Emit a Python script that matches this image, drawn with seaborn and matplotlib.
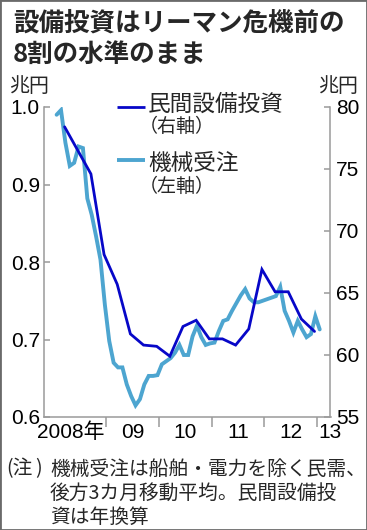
import matplotlib
matplotlib.use("Agg")
import matplotlib.pyplot as plt
import seaborn as sns
import numpy as np
import pandas as pd
from matplotlib.lines import Line2D
from matplotlib.patches import Rectangle

# ---------------- data ----------------
title_lines = ["設備投資はリーマン危機前の", "8割の水準のまま"]
unit_label = "兆円"

order_start, order_end = "2008-01", "2013-01"
machine_orders = [  # 兆円, left axis (monthly, 3-month moving average)
    0.990, 0.996, 0.954, 0.924, 0.928, 0.949, 0.947, 0.882, 0.861, 0.833, 0.803, 0.745,
    0.698, 0.670, 0.664, 0.664, 0.642, 0.627, 0.615, 0.623, 0.642, 0.653, 0.653, 0.654,
    0.668, 0.672, 0.676, 0.683, 0.693, 0.680, 0.680, 0.704, 0.718, 0.703, 0.693, 0.695,
    0.696, 0.711, 0.724, 0.726, 0.737, 0.747, 0.757, 0.765, 0.753, 0.748, 0.748, 0.750,
    0.752, 0.754, 0.756, 0.768, 0.737, 0.724, 0.709, 0.724, 0.713, 0.703, 0.707, 0.730,
    0.713,
]

capex_start, capex_end = "2008Q1", "2012Q4"
private_capex = [  # 兆円, right axis (quarterly, annualised)
    78.4, 76.5, 74.6, 68.1,
    65.7, 61.7, 60.8, 60.7,
    59.9, 62.3, 62.8, 61.3,
    61.3, 60.8, 62.1, 66.9,
    65.1, 65.1, 62.9, 61.9,
]

series_names = ["民間設備投資", "機械受注"]
series_axes = ["（右軸）", "（左軸）"]

left_ticks = [0.6, 0.7, 0.8, 0.9, 1.0]
left_ticklabels = ["0.6", "0.7", "0.8", "0.9", "1.0"]
right_ticks = [55, 60, 65, 70, 75, 80]
year_ticks = [2009, 2010, 2011, 2012, 2013]
year_label_pos = [2008.33, 2009.5, 2010.5, 2011.5, 2012.5, 2013.25]
year_labels = ["2008年", "09", "10", "11", "12", "13"]

note_head = ["(注", ")"]
note_lines = ["機械受注は船舶・電力を除く民需、", "後方3カ月移動平均。民間設備投", "資は年換算"]

# ---------------- frames ----------------
months = pd.period_range(order_start, order_end, freq="M")
df_orders = pd.DataFrame({
    "x": months.year + (months.month - 1) / 12 + 0.055,
    "value": machine_orders,
})
quarters = pd.period_range(capex_start, capex_end, freq="Q")
df_capex = pd.DataFrame({
    "x": quarters.year + (quarters.quarter * 3 - 1) / 12 + 0.04,
    "value": private_capex,
})

# ---------------- style ----------------
sns.set_theme(style="ticks")
plt.rcParams["font.family"] = ["Noto Sans CJK JP", "DejaVu Sans"]

W, H, DPI = 367, 530, 100
fig = plt.figure(figsize=(W / DPI, H / DPI), dpi=DPI)
fig.patch.set_facecolor("white")

def fx(px):
    return px / W

def fy(py):
    return 1 - py / H

DARK = "#0707c8"
LIGHT = "#4da5d0"
SPINE = "#9a9a9a"

ax = fig.add_axes([fx(44), fy(417), fx(330.5) - fx(44), fy(107) - fy(417)])
ax2 = ax.twinx()

sns.lineplot(data=df_orders, x="x", y="value", ax=ax, color=LIGHT, lw=2.8,
             solid_joinstyle="miter")
sns.lineplot(data=df_capex, x="x", y="value", ax=ax2, color=DARK, lw=2.0,
             solid_joinstyle="miter")

ax.set_xlim(2007.815, 2013.26)
ax.set_ylim(0.6, 1.0)
ax2.set_ylim(55, 80)
for a in (ax, ax2):
    a.set_xlabel("")
    a.set_ylabel("")
    a.set_facecolor("none")
    for s in a.spines.values():
        s.set_color(SPINE)
        s.set_linewidth(1.1)
    a.spines["top"].set_visible(False)

ax.spines["right"].set_visible(False)
ax2.spines["left"].set_visible(False)
ax2.spines["bottom"].set_visible(False)

ax.set_yticks(left_ticks)
ax.set_yticklabels(left_ticklabels)
ax2.set_yticks(right_ticks)
ax2.set_yticklabels([str(v) for v in right_ticks])

ax.set_xticks(year_ticks)
ax.set_xticklabels([])
ax.set_xticks(year_label_pos, minor=True)
ax.set_xticklabels(year_labels, minor=True)

ax.tick_params(axis="y", direction="in", length=4, width=1.1, color=SPINE,
               pad=3, labelsize=15, labelcolor="black")
ax2.tick_params(axis="y", direction="in", length=4, width=1.1, color=SPINE,
                pad=4, labelsize=15, labelcolor="black")
ax.tick_params(axis="x", which="major", direction="out", length=7, width=1.1,
               color=SPINE)
ax.tick_params(axis="x", which="minor", length=0, pad=4, labelsize=15,
               labelcolor="black")

for lab in ax.get_yticklabels() + ax2.get_yticklabels():
    lab.set_fontfamily(["Liberation Sans", "DejaVu Sans"])
for lab in ax.get_xticklabels(minor=True):
    lab.set_fontfamily(["Liberation Sans", "Noto Sans CJK JP"])

# ---------------- texts ----------------
fig.text(fx(13), fy(23), title_lines[0], fontsize=18.4, fontweight="bold",
         va="center", ha="left")
fig.text(fx(13), fy(54), title_lines[1], fontsize=18.4, fontweight="bold",
         va="center", ha="left")

fig.text(fx(29), fy(87), unit_label, fontsize=14.4, va="center", ha="center")
fig.text(fx(338), fy(87), unit_label, fontsize=14.4, va="center", ha="center")

# legend (manual)
for (ly, color, lw) in [(107, DARK, 2.0), (160, LIGHT, 2.8)]:
    fig.add_artist(Line2D([fx(117), fx(145)], [fy(ly), fy(ly)], color=color, lw=lw,
                          transform=fig.transFigure, solid_capstyle="butt"))
fig.text(fx(148), fy(104), series_names[0], fontsize=16.3, va="center", ha="left")
fig.text(fx(139), fy(126), series_axes[0], fontsize=13.7, va="center", ha="left")
fig.text(fx(148), fy(163), series_names[1], fontsize=16.3, va="center", ha="left")
fig.text(fx(139), fy(186), series_axes[1], fontsize=13.7, va="center", ha="left")

# note
fig.text(fx(6), fy(469), note_head[0], fontsize=14.2, va="center", ha="left")
fig.text(fx(35), fy(469), note_head[1], fontsize=14.2, va="center", ha="left")
for i, line in enumerate(note_lines):
    fig.text(fx(50), fy(469 + 24 * i), line, fontsize=14.2, va="center", ha="left")

# outer frame
fig.add_artist(Rectangle((0, 0), 1, 1, transform=fig.transFigure, fill=False,
                         edgecolor="#6a6a6a", lw=2.0))

fig.savefig("out.png", dpi=DPI)
